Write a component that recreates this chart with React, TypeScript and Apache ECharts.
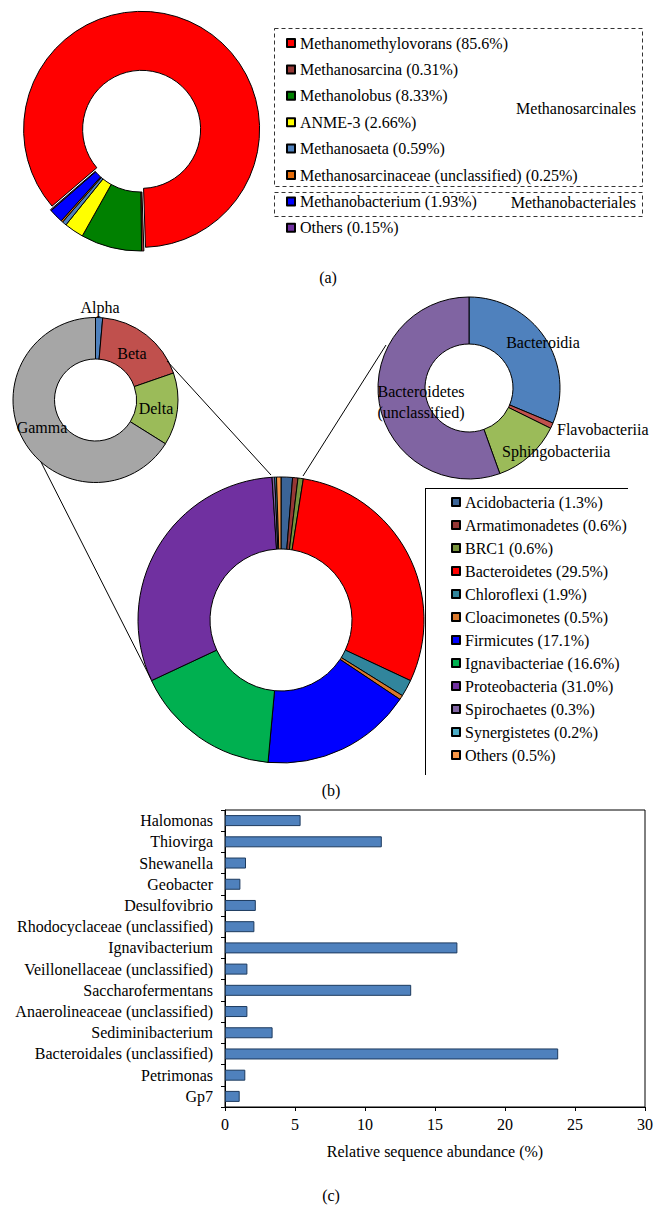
import React, { useEffect, useRef } from "react";
import * as echarts from "echarts";

// ---------- data ----------
const methanogenNames = [
  "Methanomethylovorans",
  "Methanosarcina",
  "Methanolobus",
  "ANME-3",
  "Methanosaeta",
  "Methanosarcinaceae (unclassified)",
  "Methanobacterium",
  "Others",
];
const methanogenValues = [85.6, 0.31, 8.33, 2.66, 0.59, 0.25, 1.93, 0.15];
const methanogenColors = ["#FF0000", "#953735", "#008000", "#FFFF00", "#4F81BD", "#E46C0A", "#0000FF", "#7030A0"];
const methanogenGroups = ["Methanosarcinales", "Methanobacteriales"];

const phylumNames = [
  "Acidobacteria",
  "Armatimonadetes",
  "BRC1",
  "Bacteroidetes",
  "Chloroflexi",
  "Cloacimonetes",
  "Firmicutes",
  "Ignavibacteriae",
  "Proteobacteria",
  "Spirochaetes",
  "Synergistetes",
  "Others",
];
const phylumValues = [1.3, 0.6, 0.6, 29.5, 1.9, 0.5, 17.1, 16.6, 31.0, 0.3, 0.2, 0.5];
const phylumColors = ["#3B6497", "#953735", "#77933C", "#FF0000", "#31859C", "#D9782D", "#0000FF", "#00B050", "#7030A0", "#8064A2", "#4BACC6", "#F79646"];

const proteoNames = ["Alpha", "Beta", "Delta", "Gamma"];
const proteoValues = [1.4, 18.3, 14.2, 66.1];
const proteoColors = ["#4F81BD", "#C0504D", "#9BBB59", "#A6A6A6"];

const bacteroNames = ["Bacteroidia", "Flavobacteriia", "Sphingobacteriia", "Bacteroidetes\n(unclassified)"];
const bacteroValues = [31.3, 1.0, 12.2, 55.5];
const bacteroColors = ["#4F81BD", "#C0504D", "#9BBB59", "#8064A2"];

const genusNames = [
  "Halomonas",
  "Thiovirga",
  "Shewanella",
  "Geobacter",
  "Desulfovibrio",
  "Rhodocyclaceae (unclassified)",
  "Ignavibacterium",
  "Veillonellaceae (unclassified)",
  "Saccharofermentans",
  "Anaerolineaceae (unclassified)",
  "Sediminibacterium",
  "Bacteroidales (unclassified)",
  "Petrimonas",
  "Gp7",
];
const genusValues = [5.4, 11.2, 1.5, 1.1, 2.2, 2.1, 16.6, 1.6, 13.3, 1.6, 3.4, 23.8, 1.45, 1.05];
const xTicks = [0, 5, 10, 15, 20, 25, 30];
const xAxisTitle = "Relative sequence abundance (%)";
const panelLabels = ["(a)", "(b)", "(c)"];

// ---------- layout (positions only) ----------
const FONT = "Liberation Serif";
const proteoLabelPos = [
  [100, 307],
  [132, 353],
  [156, 408],
  [42, 427],
];
const bacteroLabelPos = [
  [543, 342, "center"],
  [557, 429, "left"],
  [502, 451, "left"],
  [421, 402, "center"],
];

export default function App() {
  const ref = useRef<HTMLDivElement>(null);

  useEffect(() => {
    if (!ref.current) return;
    const chart = echarts.init(ref.current, undefined, { renderer: "svg" });

    const methLabels = methanogenNames.map((n, i) => `${n} (${methanogenValues[i]}%)`);
    const phylLabels = phylumNames.map((n, i) => `${n} (${phylumValues[i].toFixed(1)}%)`);

    const border = { borderColor: "#000", borderWidth: 1 };
    const pieBase = {
      type: "pie",
      clockwise: true,
      label: { show: false },
      labelLine: { show: false },
      silent: true,
      emphasis: { disabled: true },
    };

    const textStyle = { fontFamily: FONT, fontSize: 16, color: "#000" };

    const txt = (text: string, x: number, y: number, align = "center") => ({
      type: "text",
      x,
      y,
      z: 100,
      silent: true,
      style: {
        text,
        fill: "#000",
        font: `16px "${FONT}"`,
        textAlign: align,
        align,
        textVerticalAlign: "middle",
        verticalAlign: "middle",
        lineHeight: 21,
      },
    });
    const ln = (x1: number, y1: number, x2: number, y2: number) => ({
      type: "line",
      z: 100,
      silent: true,
      shape: { x1, y1, x2, y2 },
      style: { stroke: "#000", lineWidth: 1 },
    });
    const dashRect = (x: number, y: number, w: number, h: number) => ({
      type: "rect",
      z: 100,
      silent: true,
      shape: { x, y, width: w, height: h },
      style: { fill: "none", stroke: "#333", lineWidth: 1, lineDash: [4, 3] },
    });

    const graphics: any[] = [
      dashRect(274.5, 28.5, 368, 158),
      dashRect(274.5, 192.5, 368, 24),
      txt(methanogenGroups[0], 636, 108, "right"),
      txt(methanogenGroups[1], 636, 202, "right"),
      txt(panelLabels[0], 328, 277),
      txt(panelLabels[1], 331, 790),
      txt(panelLabels[2], 331, 1195),
      ln(167, 361, 271, 475),
      ln(41, 462, 151, 679),
      ln(303, 476, 386, 345),
      ln(425, 488.5, 628, 488.5),
      ln(425.5, 488, 425.5, 775),
    ];
    proteoNames.forEach((n, i) => graphics.push(txt(n, proteoLabelPos[i][0], proteoLabelPos[i][1])));
    bacteroNames.forEach((n, i) =>
      graphics.push(txt(n, bacteroLabelPos[i][0] as number, bacteroLabelPos[i][1] as number, bacteroLabelPos[i][2] as string))
    );

    const option: any = {
      animation: false,
      backgroundColor: "#fff",
      textStyle: { fontFamily: FONT },
      legend: [
        {
          orient: "vertical",
          left: 286,
          top: 35,
          padding: 0,
          icon: "rect",
          itemWidth: 8,
          itemHeight: 8,
          itemGap: 10.4,
          itemTextGap: 3,
          selectedMode: false,
          data: methLabels,
          textStyle: { ...textStyle, lineHeight: 16 },
        },
        {
          orient: "vertical",
          left: 451,
          top: 494,
          padding: 0,
          icon: "rect",
          itemWidth: 8,
          itemHeight: 8,
          itemGap: 7,
          itemTextGap: 5,
          selectedMode: false,
          data: phylLabels,
          textStyle: { ...textStyle, lineHeight: 16 },
        },
      ],
      grid: {
        left: 225,
        top: 810,
        width: 420,
        height: 297,
        show: true,
        borderColor: "#000",
        borderWidth: 1,
        backgroundColor: "transparent",
        containLabel: false,
        outerBoundsMode: "none",
      },
      xAxis: {
        type: "value",
        min: xTicks[0],
        max: xTicks[xTicks.length - 1],
        interval: xTicks[1] - xTicks[0],
        axisLine: { show: true, lineStyle: { color: "#000", width: 1 } },
        axisTick: { show: true, length: 4, lineStyle: { color: "#000" } },
        splitLine: { show: false },
        axisLabel: { ...textStyle, margin: 9 },
        name: xAxisTitle,
        nameLocation: "middle",
        nameGap: 36,
        nameTextStyle: textStyle,
      },
      yAxis: {
        type: "category",
        data: genusNames,
        inverse: true,
        axisLine: { show: true, lineStyle: { color: "#000", width: 1 } },
        axisTick: { show: true, length: 4, alignWithLabel: false, lineStyle: { color: "#000" } },
        axisLabel: { ...textStyle, margin: 12 },
        splitLine: { show: false },
      },
      series: [
        {
          ...pieBase,
          name: "methanogens",
          center: [140, 133],
          radius: [59, 118],
          startAngle: 220.6,
          selectedMode: "single",
          selectedOffset: 4,
          select: { itemStyle: { ...border } },
          itemStyle: border,
          data: methLabels.map((n, i) => ({
            name: n,
            value: methanogenValues[i],
            selected: i === 0,
            itemStyle: { color: methanogenColors[i] },
          })),
        },
        {
          ...pieBase,
          name: "phyla",
          center: [281, 620],
          radius: [71, 143],
          startAngle: 90,
          itemStyle: border,
          data: phylLabels.map((n, i) => ({
            name: n,
            value: phylumValues[i],
            itemStyle: { color: phylumColors[i] },
          })),
        },
        {
          ...pieBase,
          name: "proteobacteria",
          center: [95.5, 400],
          radius: [41, 82.5],
          startAngle: 90,
          itemStyle: border,
          data: proteoNames.map((n, i) => ({
            name: n,
            value: proteoValues[i],
            itemStyle: { color: proteoColors[i] },
          })),
        },
        {
          ...pieBase,
          name: "bacteroidetes",
          center: [469, 388],
          radius: [44, 91],
          startAngle: 90,
          itemStyle: border,
          data: bacteroNames.map((n, i) => ({
            name: n,
            value: bacteroValues[i],
            itemStyle: { color: bacteroColors[i] },
          })),
        },
        {
          type: "bar",
          name: "genera",
          data: genusValues,
          barWidth: 11,
          silent: true,
          itemStyle: { color: "#4F81BD", borderColor: "#1C3A5E", borderWidth: 1 },
        },
      ],
      graphic: graphics,
    };

    chart.setOption(option);
    return () => chart.dispose();
  }, []);

  return (
    <div
      ref={ref}
      style={{ position: "absolute", left: 0, top: 0, width: 663, height: 1212, background: "#fff" }}
    />
  );
}
